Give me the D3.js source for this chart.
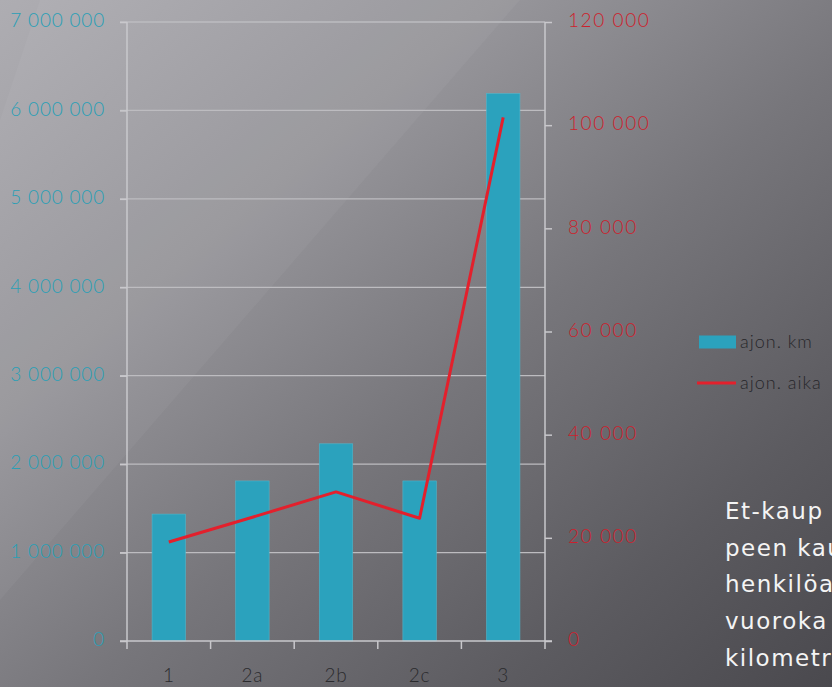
<!DOCTYPE html>
<html>
<head>
<meta charset="utf-8">
<script src="https://cdn.jsdelivr.net/npm/d3@7/dist/d3.min.js"></script>
<style>
  html, body { margin: 0; padding: 0; overflow: hidden; }
  svg { display: block; }
  .tick-l text { fill: #2a9fb6; }
  .tick-r text { fill: #cc1f2d; }
</style>
</head>
<body>
<div id="chart"></div>
<script>
// chart values
const categories = ['1', '2a', '2b', '2c', '3'];
const ajonKm = [1435000, 1810000, 2230000, 1810000, 6190000];
const ajonAika = [19200, 24000, 28900, 23800, 101500];
const leftTicks = [0, 1000000, 2000000, 3000000, 4000000, 5000000, 6000000, 7000000];
const rightTicks = [0, 20000, 40000, 60000, 80000, 100000, 120000];
const legendLabels = ['ajon. km', 'ajon. aika'];
const noteLines = ['Et-kaup', 'peen kau', 'henkilöa', 'vuoroka', 'kilometr'];

const WIDTH = 832;
const HEIGHT = 687;
const plot = { left: 127, right: 545, top: 22, bottom: 641 };

const barColor = '#2ba2bd';
const lineColor = '#e3202c';
const gridColor = '#bdbcc0';

const fmt = d3.formatLocale({ decimal: ',', thousands: ' ', grouping: [3], currency: ['', ''] }).format(',d');

const svg = d3.select('#chart').append('svg')
  .attr('width', WIDTH)
  .attr('height', HEIGHT);

// background: diagonal grey gradient with a lighter streak
const defs = svg.append('defs');
const bg = defs.append('linearGradient')
  .attr('id', 'bg')
  .attr('x1', '0').attr('y1', '0')
  .attr('x2', '1').attr('y2', '1');
[[0, '#aeadb2'], [0.3, '#97969b'], [0.55, '#77767b'], [0.8, '#5c5b60'], [1, '#4a494e']]
  .forEach(([o, c]) => bg.append('stop').attr('offset', o).attr('stop-color', c));

svg.append('rect')
  .attr('width', WIDTH).attr('height', HEIGHT)
  .attr('fill', 'url(#bg)');

// soft diagonal light bands
svg.append('path')
  .attr('d', `M170,0 L520,0 L0,600 L0,250 Z`)
  .attr('fill', '#ffffff').attr('opacity', 0.04);
svg.append('path')
  .attr('d', `M40,0 L170,0 L0,250 L0,120 Z`)
  .attr('fill', '#ffffff').attr('opacity', 0.04);

const x = d3.scaleBand()
  .domain(categories)
  .range([plot.left, plot.right])
  .paddingInner(0.6)
  .paddingOuter(0.3);

const yLeft = d3.scaleLinear()
  .domain([0, 7000000])
  .range([plot.bottom, plot.top]);

const yRight = d3.scaleLinear()
  .domain([0, 120000])
  .range([plot.bottom, plot.top]);

// gridlines
svg.append('g')
  .selectAll('line')
  .data(leftTicks.slice(1))
  .join('line')
  .attr('x1', plot.left - 7)
  .attr('x2', plot.right)
  .attr('y1', d => yLeft(d))
  .attr('y2', d => yLeft(d))
  .attr('stroke', gridColor)
  .attr('stroke-width', 1.3);

// bars
svg.append('g')
  .selectAll('rect')
  .data(ajonKm)
  .join('rect')
  .attr('x', (d, i) => x(categories[i]))
  .attr('width', x.bandwidth())
  .attr('y', d => yLeft(d))
  .attr('height', d => yLeft(0) - yLeft(d))
  .attr('fill', barColor)
  .attr('stroke', '#4fb6cc')
  .attr('stroke-width', 0.6);

// axes
const axisFont = 'Lato, "Open Sans", sans-serif';

const gLeft = svg.append('g')
  .attr('class', 'tick-l')
  .attr('transform', `translate(${plot.left},0)`)
  .call(d3.axisLeft(yLeft).tickValues(leftTicks).tickFormat(fmt).tickSize(7).tickPadding(15));

const gRight = svg.append('g')
  .attr('class', 'tick-r')
  .attr('transform', `translate(${plot.right},0)`)
  .call(d3.axisRight(yRight).tickValues(rightTicks).tickFormat(fmt).tickSize(7).tickPadding(16));

const gBottom = svg.append('g')
  .attr('transform', `translate(0,${plot.bottom})`)
  .call(d3.axisBottom(x).tickSize(0).tickPadding(28));

[gLeft, gRight, gBottom].forEach(g => {
  g.select('.domain').attr('stroke', '#c9c8cc').attr('stroke-width', 1.5);
  g.selectAll('.tick line').attr('stroke', '#c9c8cc').attr('stroke-width', 1.5);
  g.selectAll('text')
    .style('font-family', axisFont)
    .style('font-weight', 300)
    .style('font-size', '19px')
    .style('letter-spacing', '0.8px');
});
gRight.selectAll('text').style('letter-spacing', '1.6px');
gLeft.selectAll('.tick text').attr('dy', '0.25em');
gRight.selectAll('.tick text').attr('dy', '0.25em');
gLeft.select('.domain').attr('d', `M0,${plot.top}V${plot.bottom}`);
gRight.select('.domain').attr('d', `M0,${plot.top}V${plot.bottom}`);
gBottom.select('.domain').attr('d', `M${plot.left - 7},0H${plot.right + 7}`);
gBottom.selectAll('text').attr('fill', '#2b2b2e');

// band boundary ticks on the x axis
gBottom.append('g')
  .selectAll('line')
  .data(categories.concat(['end']))
  .join('line')
  .attr('x1', (d, i) => plot.left + i * x.step())
  .attr('x2', (d, i) => plot.left + i * x.step())
  .attr('y1', 0)
  .attr('y2', 8)
  .attr('stroke', '#c9c8cc')
  .attr('stroke-width', 1.5);

// line series
const line = d3.line()
  .x((d, i) => x(categories[i]) + x.bandwidth() / 2)
  .y(d => yRight(d));

svg.append('path')
  .datum(ajonAika)
  .attr('d', line)
  .attr('fill', 'none')
  .attr('stroke', lineColor)
  .attr('stroke-width', 3)
  .attr('stroke-linejoin', 'round');

// legend
const legend = svg.append('g')
  .attr('transform', 'translate(699,342)');

legend.append('rect')
  .attr('x', 0).attr('y', -6.5)
  .attr('width', 37).attr('height', 13)
  .attr('fill', barColor);

legend.append('line')
  .attr('x1', -2).attr('x2', 37)
  .attr('y1', 41).attr('y2', 41)
  .attr('stroke', lineColor)
  .attr('stroke-width', 3);

legend.selectAll('text')
  .data(legendLabels)
  .join('text')
  .attr('x', 41)
  .attr('y', (d, i) => i * 41)
  .attr('dy', '0.35em')
  .attr('fill', '#26262a')
  .style('font-family', axisFont)
  .style('font-weight', 300)
  .style('font-size', '18px')
  .style('letter-spacing', '1px')
  .text(d => d);

// note text at the lower right, running off the edge as in the source
svg.append('g')
  .selectAll('text')
  .data(noteLines)
  .join('text')
  .attr('x', 725)
  .attr('y', (d, i) => 519 + i * 36.7)
  .attr('fill', '#f4f4f4')
  .style('font-family', '"DejaVu Sans", Verdana, sans-serif')
  .style('font-size', '23px')
  .style('letter-spacing', '1.5px')
  .text(d => d);
</script>
</body>
</html>
